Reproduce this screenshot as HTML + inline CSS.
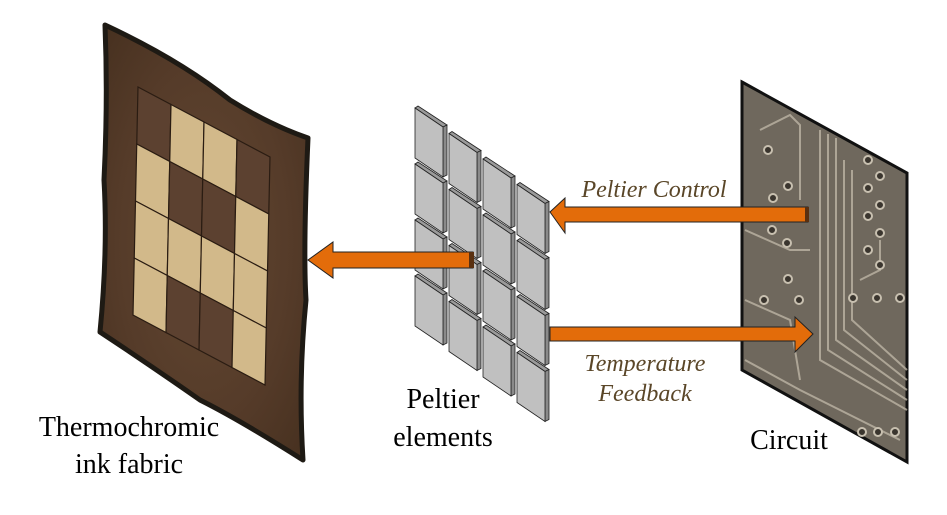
<!DOCTYPE html>
<html><head><meta charset="utf-8"><style>
html,body{margin:0;padding:0;background:#fff;width:947px;height:515px;overflow:hidden}
svg{display:block}
.lbl{font-family:"Liberation Serif",serif;font-size:28px;fill:#000}
.it{font-family:"Liberation Serif",serif;font-style:italic;font-size:24px;fill:#5a4628}
</style></head><body>
<svg id="s" width="947" height="515" viewBox="0 0 947 515" xmlns="http://www.w3.org/2000/svg">
<defs>
<radialGradient id="fab" cx="50%" cy="50%" r="70%">
<stop offset="0" stop-color="#634832"/><stop offset="0.6" stop-color="#553b29"/><stop offset="1" stop-color="#46301f"/></radialGradient>
<g id="tile">
<polygon points="0,0 3,-2 32,17 28,19" fill="#9a9a9a" stroke="#222" stroke-width="0.8"/>
<polygon points="28,19 32,17 32,67 28,69" fill="#8a8a8a" stroke="#222" stroke-width="0.8"/>
<polygon points="0,0 28,19 28,69 0,50" fill="#c0c0c0" stroke="#222" stroke-width="0.8"/>
</g>
</defs>
<path d="M105,25 Q180,60 230,100 Q270,125 308,138 Q303,250 306,300 Q298,380 303,460 Q240,420 200,400 Q150,365 100,332 Q108,250 104,180 Q108,100 105,25 Z" fill="url(#fab)" stroke="#1e1a14" stroke-width="5" stroke-linejoin="round"/>
<g id="ftiles"></g>
<g id="pt"></g>
<polygon points="742,82 907,173 907,462 742,370" fill="#6f685d" stroke="#111" stroke-width="3"/>
<g fill="none" stroke="#bdb5a5" stroke-width="2" opacity="0.8">
<path d="M820,130 L820,360 L907,410"/><path d="M828,134 L828,350 L907,400"/><path d="M836,138 L836,340 L907,390"/>
<path d="M844,160 L844,330 L907,380"/><path d="M852,170 L852,320 L907,370"/>
<path d="M760,130 L790,115 L800,125 L800,200"/><path d="M745,300 L790,320 L800,380"/>
<path d="M745,360 L800,390 L860,420 L900,440"/><path d="M745,230 L790,250 L810,250"/>
<path d="M860,280 L880,270 L880,240"/>
</g>
<g fill="#3a352e" stroke="#c8c0b0" stroke-width="2">
<circle cx="768" cy="150" r="4"/><circle cx="788" cy="186" r="4"/><circle cx="773" cy="198" r="4"/><circle cx="772" cy="230" r="4"/><circle cx="787" cy="243" r="4"/><circle cx="788" cy="279" r="4"/><circle cx="764" cy="300" r="4"/><circle cx="799" cy="300" r="4"/><circle cx="868" cy="160" r="4"/><circle cx="880" cy="176" r="4"/><circle cx="868" cy="188" r="4"/><circle cx="880" cy="205" r="4"/><circle cx="868" cy="216" r="4"/><circle cx="880" cy="233" r="4"/><circle cx="868" cy="250" r="4"/><circle cx="880" cy="265" r="4"/><circle cx="853" cy="298" r="4"/><circle cx="877" cy="298" r="4"/><circle cx="900" cy="298" r="4"/><circle cx="862" cy="432" r="4"/><circle cx="878" cy="432" r="4"/><circle cx="895" cy="432" r="4"/>
</g>
<polygon points="808,207 565,207 565,198 550,212 565,233 565,222 808,222" fill="#e36c0a" stroke="#222" stroke-width="1"/>
<rect x="805" y="207" width="4" height="15" fill="#5a3010"/>
<polygon points="473,252 333,252 333,242 308,260 333,278 333,268 473,268" fill="#e36c0a" stroke="#222" stroke-width="1"/>
<rect x="469" y="252" width="5" height="16" fill="#5a3010"/>
<polygon points="550,327 795,327 795,317 813,334 795,352 795,341 550,341" fill="#e36c0a" stroke="#222" stroke-width="1"/>
<text class="lbl" x="129" y="436" text-anchor="middle">Thermochromic</text>
<text class="lbl" x="129" y="473" text-anchor="middle">ink fabric</text>
<text class="lbl" x="443" y="408" text-anchor="middle">Peltier</text>
<text class="lbl" x="443" y="446" text-anchor="middle">elements</text>
<text class="lbl" x="789" y="449" text-anchor="middle">Circuit</text>
<text class="it" x="654" y="197" text-anchor="middle">Peltier Control</text>
<text class="it" x="645" y="371" text-anchor="middle">Temperature</text>
<text class="it" x="645" y="401" text-anchor="middle">Feedback</text>
</svg>
<script>
var NS="http://www.w3.org/2000/svg";
var pt=document.getElementById("pt");
for(var c=0;c<4;c++)for(var r=0;r<4;r++){var u=document.createElementNS(NS,"use");u.setAttribute("href","#tile");u.setAttribute("transform","translate("+(415+c*34)+","+(108+c*25.5+r*56)+")");pt.appendChild(u);}
var ft=document.getElementById("ftiles");
var light=[[0,1,1,0],[1,0,0,1],[1,1,1,1],[1,0,0,1]];
function P(c,r){return [138+c*33-r*1.25,87+c*17.5+r*57];}
for(var c=0;c<4;c++)for(var r=0;r<4;r++){var a=P(c,r),b=P(c+1,r),d=P(c+1,r+1),e=P(c,r+1);
var p=document.createElementNS(NS,"polygon");p.setAttribute("points",[a,b,d,e].map(function(q){return q.join(",")}).join(" "));
p.setAttribute("fill",light[r][c]?"#d2b98a":"#5c4130");p.setAttribute("stroke","#2a1c12");p.setAttribute("stroke-width","1.2");ft.appendChild(p);}
</script>
</body></html>
